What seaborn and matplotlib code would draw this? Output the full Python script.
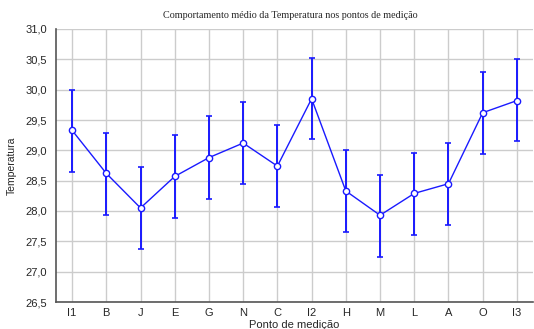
import matplotlib
matplotlib.use("Agg")
import matplotlib.pyplot as plt
import numpy as np
import pandas as pd
import seaborn as sns

points = ["I1", "B", "J", "E", "G", "N", "C", "I2", "H", "M", "L", "A", "O", "I3"]
means = [29.33, 28.62, 28.05, 28.57, 28.88, 29.12, 28.74, 29.85, 28.33, 27.93, 28.29, 28.45, 29.62, 29.82]
lower = [28.65, 27.94, 27.37, 27.89, 28.20, 28.45, 28.07, 29.18, 27.65, 27.25, 27.60, 27.77, 28.94, 29.15]
upper = [30.00, 29.29, 28.72, 29.25, 29.56, 29.80, 29.42, 30.52, 29.00, 28.60, 28.95, 29.12, 30.29, 30.50]

df = pd.DataFrame({"ponto": points, "temp": means, "lo": lower, "hi": upper})

sns.set_style("white")
plt.rcParams["font.family"] = ["Liberation Sans", "DejaVu Sans"]

fig = plt.figure(figsize=(5.34, 3.29), dpi=100)
ax = fig.add_axes([56 / 534, 1 - 302 / 329, 477 / 534, 273 / 329])

blue = "#1a1aff"
pos = np.arange(len(df))
ax.errorbar(pos, df["temp"], yerr=[df["temp"] - df["lo"], df["hi"] - df["temp"]],
            fmt="none", ecolor=blue, elinewidth=1.4, capsize=2, capthick=1.2, zorder=3)
sns.pointplot(data=df, x="ponto", y="temp", order=points, errorbar=None, color=blue,
              markers="o", linestyles="-", ax=ax, zorder=4,
              markersize=4.5, linewidth=1.0,
              markerfacecolor="white", markeredgecolor=blue, markeredgewidth=1.0)

ax.set_xlim(-0.47, len(points) - 0.53)
ax.set_ylim(26.5, 31.0)
yt = np.arange(26.5, 31.01, 0.5)
ax.set_yticks(yt)
ax.set_yticklabels([f"{v:.1f}".replace(".", ",") for v in yt])
ax.tick_params(axis="both", labelsize=8, length=3, width=0.8, color="#555555", direction="out")
ax.tick_params(axis="x", pad=1.5)
ax.grid(True, color="#cccccc", linewidth=1.0)
ax.set_axisbelow(True)
for s in ["top", "right"]:
    ax.spines[s].set_visible(False)
for s in ["left", "bottom"]:
    ax.spines[s].set_color("#555555")
    ax.spines[s].set_linewidth(1.2)

ax.set_xlabel("Ponto de medição", fontsize=8, labelpad=1)
ax.set_ylabel("Temperatura", fontsize=7.5, labelpad=6)
fig.text(290 / 534, 1 - 15 / 329, "Comportamento médio da Temperatura nos pontos de medição",
         ha="center", va="center", fontsize=7.3, family=["Liberation Serif", "DejaVu Serif"])

fig.savefig("out.png", dpi=100)
